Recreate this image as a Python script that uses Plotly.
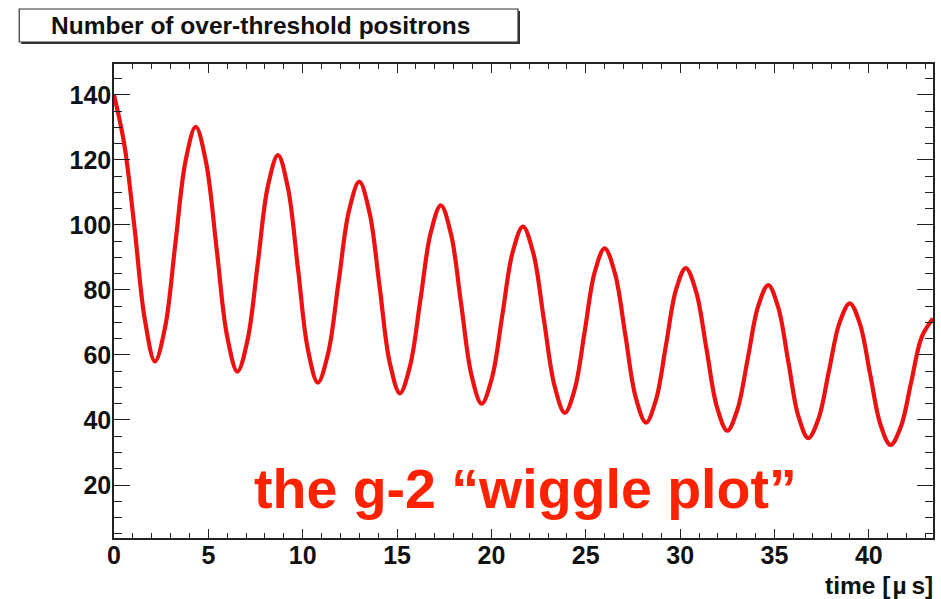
import plotly.graph_objects as go

# Over-threshold positron counts versus time (µs)
time_us = [
    0.00, 0.54, 1.09, 1.63, 2.17,
    2.71, 3.25, 3.79, 4.33,
    4.88, 5.44, 5.99, 6.54,
    7.08, 7.62, 8.15, 8.69,
    9.22, 9.75, 10.27, 10.80,
    11.35, 11.90, 12.45, 13.00,
    13.54, 14.08, 14.61, 15.15,
    15.69, 16.24, 16.78, 17.32,
    17.86, 18.40, 18.94, 19.48,
    20.03, 20.58, 21.12, 21.67,
    22.23, 22.78, 23.34, 23.89,
    24.42, 24.95, 25.47, 26.00,
    26.55, 27.10, 27.64, 28.19,
    28.72, 29.25, 29.77, 30.30,
    30.85, 31.40, 31.95, 32.50,
    33.04, 33.59, 34.13, 34.67,
    35.20, 35.73, 36.26, 36.79,
    37.34, 37.89, 38.44, 38.99,
    39.53, 40.07, 40.61, 41.15,
    41.70, 42.25, 42.80, 43.40,
]
counts = [
    140.0, 125.0, 99.0, 71.0, 58.0,
    68.6, 94.1, 119.6, 130.2,
    119.2, 92.6, 65.9, 54.9,
    64.7, 88.2, 111.8, 121.5,
    111.3, 86.5, 61.8, 51.5,
    60.6, 82.4, 104.3, 113.3,
    103.8, 80.8, 57.7, 48.2,
    56.7, 77.1, 97.5, 106.0,
    97.1, 75.5, 53.9, 45.0,
    53.0, 72.3, 91.5, 99.5,
    91.1, 70.9, 50.6, 42.2,
    49.6, 67.5, 85.4, 92.8,
    85.0, 66.0, 47.1, 39.2,
    46.2, 63.0, 79.8, 86.7,
    79.4, 61.7, 44.0, 36.7,
    43.3, 59.1, 74.9, 81.5,
    74.6, 58.0, 41.3, 34.4,
    40.5, 55.2, 69.8, 75.9,
    69.5, 54.1, 38.7, 32.3,
    38.0, 51.8, 65.5, 71.2,
]

x_ticks = [0, 5, 10, 15, 20, 25, 30, 35, 40]
y_ticks = [20, 40, 60, 80, 100, 120, 140]

W, H = 941, 599
L, R, T, B = 114, 6, 64, 61
PW, PH = W - L - R, H - T - B


def px(x):
    return (x - L) / PW


def py(y):
    return (H - B - y) / PH


FONT = "Liberation Sans, Arial, Helvetica, sans-serif"
AXIS = "#222222"

fig = go.Figure()
fig.add_trace(go.Scatter(
    x=time_us, y=counts, mode="lines",
    line=dict(color="#ee1111", width=4.2, shape="spline", smoothing=1.0),
    hoverinfo="skip", showlegend=False,
))

axis_common = dict(
    showgrid=False, zeroline=False, showline=True, linecolor=AXIS,
    linewidth=1.5, mirror="allticks", ticks="inside", tickcolor=AXIS,
    tickwidth=1.3,
    tickfont=dict(family=FONT, size=25, color="#111111", weight="bold"),
)

fig.update_xaxes(
    range=[0, 43.4], tickmode="array", tickvals=x_ticks,
    ticktext=[str(v) for v in x_ticks], ticklen=9,
    ticklabelstandoff=-6,
    minor=dict(ticks="inside", dtick=1, tick0=0, ticklen=5,
               tickcolor=AXIS, tickwidth=1.1),
    **axis_common,
)
fig.update_yaxes(
    range=[3.7, 149.5], tickmode="array", tickvals=y_ticks,
    ticktext=[str(v) for v in y_ticks], ticklen=16,
    ticklabelstandoff=-4,
    minor=dict(ticks="inside", dtick=5, tick0=0, ticklen=8,
               tickcolor=AXIS, tickwidth=1.1),
    **axis_common,
)

# Title box with a thin drop shadow on the right and bottom
fig.add_shape(type="rect", xref="paper", yref="paper",
              x0=px(21), x1=px(521), y0=py(11), y1=py(44),
              fillcolor="#333333", line=dict(width=0), layer="above")
fig.add_shape(type="rect", xref="paper", yref="paper",
              x0=px(19), x1=px(519), y0=py(9), y1=py(42),
              fillcolor="white", line=dict(color="#333333", width=1.2),
              layer="above")

fig.add_annotation(
    xref="paper", yref="paper", x=px(49), y=py(25),
    xanchor="left", yanchor="middle", showarrow=False,
    text="Number of over-threshold positrons",
    font=dict(family=FONT, size=24.5, color="#111111", weight="bold"),
)

fig.add_annotation(
    xref="paper", yref="paper", x=px(937), y=py(585),
    xanchor="right", yanchor="middle", showarrow=False,
    text="time [\u200aµ\u2009s]",
    font=dict(family=FONT, size=24.5, color="#111111", weight="bold"),
)

fig.add_annotation(
    xref="paper", yref="paper", x=px(252), y=py(489),
    xanchor="left", yanchor="middle", showarrow=False,
    text="the g-2 “wiggle plot”",
    font=dict(family=FONT, size=55.5, color="#ff2200", weight="bold"),
)

fig.update_layout(
    width=W, height=H,
    margin=dict(l=L, r=R, t=T, b=B),
    paper_bgcolor="white", plot_bgcolor="white",
    showlegend=False,
)

fig.write_html("out.html")
